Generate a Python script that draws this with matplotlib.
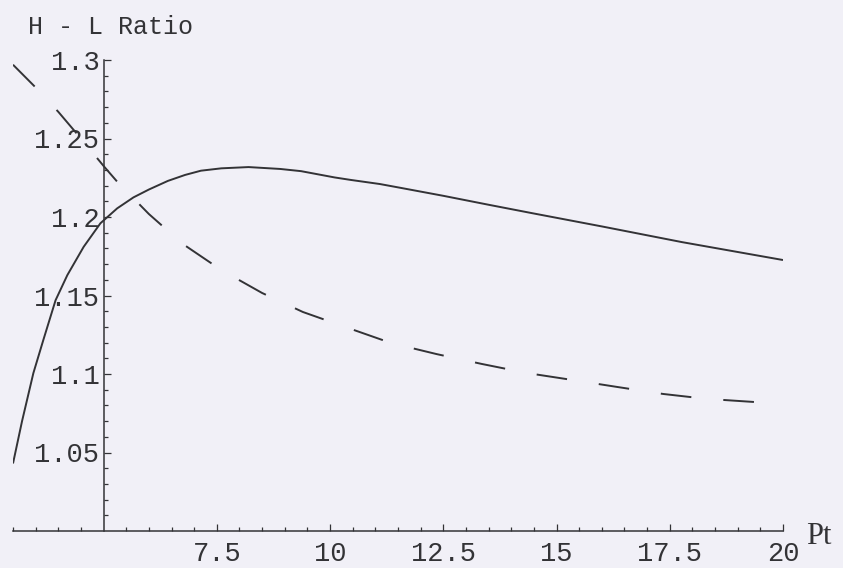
import numpy as np
import matplotlib
matplotlib.use("Agg")
import matplotlib.pyplot as plt
from matplotlib.ticker import FixedLocator, FormatStrFormatter

# Transverse-momentum grid and H-L ratio curves
pt_solid = [3.0, 3.2, 3.45, 3.67, 3.94, 4.2, 4.56, 4.93, 5.3, 5.66, 6.0,
            6.42, 6.8, 7.15, 7.6, 8.2, 8.9, 9.36, 10.1, 10.46, 11.1, 11.57,
            12.5, 13.5, 14.45, 16.0, 17.77, 20.0]
ratio_solid = [1.043, 1.070, 1.1006, 1.1217, 1.147, 1.163, 1.181, 1.196,
               1.2055, 1.2125, 1.2175, 1.223, 1.2268, 1.2295, 1.2310, 1.2318,
               1.2306, 1.2292, 1.2252, 1.2236, 1.2210, 1.2185, 1.2135,
               1.2078, 1.2025, 1.194, 1.184, 1.1726]

pt_dashed = [3.0, 3.5, 4.0, 4.5, 5.0, 5.3, 6.0, 6.75, 7.6, 8.5, 9.4, 10.4,
             11.35, 12.35, 13.35, 14.35, 15.35, 16.35, 17.35, 18.3, 19.35, 20.0]
ratio_dashed = [1.297, 1.2825, 1.267, 1.250, 1.2325, 1.2225, 1.2019, 1.1828,
                1.1662, 1.1516, 1.1395, 1.1293, 1.1197, 1.1127, 1.1064,
                1.1006, 1.0962, 1.0917, 1.0873, 1.0842, 1.0822, 1.081]

x_major = [7.5, 10, 12.5, 15, 17.5, 20]
y_major = [1.05, 1.1, 1.15, 1.2, 1.25, 1.3]

paper = "#f1f0f7"
ink = "#333336"
mono = "Liberation Mono"

fig = plt.figure(figsize=(8.43, 5.68), dpi=100, facecolor=paper)
ax = fig.add_axes([13 / 843, 37 / 568, 770 / 843, 471 / 568])
ax.set_facecolor(paper)
ax.set_xlim(3, 20)
ax.set_ylim(1.0, 1.3)

ax.plot(pt_solid, ratio_solid, color=ink, lw=1.4, solid_capstyle="butt",
        solid_joinstyle="round")
ax.plot(pt_dashed, ratio_dashed, color=ink, lw=1.4, linestyle=(0, (15.8, 16.5)),
        dash_capstyle="butt")

# Axes cross at (5, 1.0)
for s in ("top", "right"):
    ax.spines[s].set_visible(False)
ax.spines["left"].set_position(("data", 5))
ax.spines["bottom"].set_position(("data", 1.0))
for s in ("left", "bottom"):
    ax.spines[s].set_color(ink)
    ax.spines[s].set_linewidth(1.1)

x_minor = [v for v in np.arange(3.0, 20.01, 0.5) if v not in x_major and v != 5.0]
y_minor = [v for v in np.round(np.arange(1.01, 1.301, 0.01), 2)
           if not any(abs(v - m) < 1e-6 for m in y_major)]

ax.xaxis.set_major_locator(FixedLocator(x_major))
ax.xaxis.set_minor_locator(FixedLocator(x_minor))
ax.yaxis.set_major_locator(FixedLocator(y_major))
ax.yaxis.set_minor_locator(FixedLocator(y_minor))
ax.xaxis.set_major_formatter(FormatStrFormatter("%g"))
ax.yaxis.set_major_formatter(FormatStrFormatter("%g"))

ax.tick_params(which="both", direction="in", color=ink, width=0.9)
ax.tick_params(which="major", length=5)
ax.tick_params(which="minor", length=3)
ax.tick_params(axis="x", which="major", pad=7, labelsize=19.5, labelcolor=ink)
ax.tick_params(axis="y", which="major", pad=3, labelsize=19.5, labelcolor=ink)
for lab in ax.get_xticklabels() + ax.get_yticklabels():
    lab.set_fontfamily(mono)

fig.text(28 / 843, 1 - 27 / 568, "H - L Ratio", fontsize=18, family=mono,
         color=ink, ha="left", va="center")
fig.text(806 / 843, 1 - 536 / 568, "Pt", fontsize=22, family="Liberation Serif",
         color=ink, ha="left", va="center")

fig.savefig("out.png", dpi=100, facecolor=paper)
